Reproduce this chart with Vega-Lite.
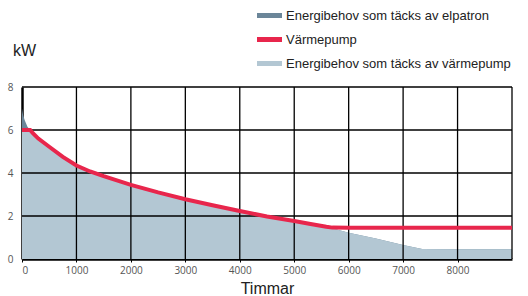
{
  "$schema": "https://vega.github.io/schema/vega-lite/v6.json",
  "width": 490,
  "height": 172,
  "autosize": {"type": "none"},
  "padding": {"left": 22, "top": 87, "right": 16, "bottom": 37},
  "background": "white",
  "config": {
    "view": {"stroke": null},
    "font": "Liberation Sans"
  },
  "datasets": {
    "curve": [
      {"h": 0, "demand": 7.0, "pump": 6.0, "covered": 6.0},
      {"h": 20, "demand": 6.7, "pump": 6.0, "covered": 6.0},
      {"h": 50, "demand": 6.45, "pump": 6.0, "covered": 6.0},
      {"h": 100, "demand": 6.15, "pump": 6.0, "covered": 6.0},
      {"h": 150, "demand": 6.0, "pump": 6.0, "covered": 6.0},
      {"h": 200, "demand": 5.85, "pump": 5.85, "covered": 5.85},
      {"h": 300, "demand": 5.6, "pump": 5.6, "covered": 5.6},
      {"h": 500, "demand": 5.22, "pump": 5.22, "covered": 5.22},
      {"h": 750, "demand": 4.75, "pump": 4.75, "covered": 4.75},
      {"h": 1000, "demand": 4.35, "pump": 4.35, "covered": 4.35},
      {"h": 1250, "demand": 4.07, "pump": 4.07, "covered": 4.07},
      {"h": 1500, "demand": 3.85, "pump": 3.85, "covered": 3.85},
      {"h": 2000, "demand": 3.45, "pump": 3.45, "covered": 3.45},
      {"h": 2500, "demand": 3.1, "pump": 3.1, "covered": 3.1},
      {"h": 3000, "demand": 2.78, "pump": 2.78, "covered": 2.78},
      {"h": 3500, "demand": 2.5, "pump": 2.5, "covered": 2.5},
      {"h": 4000, "demand": 2.23, "pump": 2.23, "covered": 2.23},
      {"h": 4500, "demand": 1.98, "pump": 1.98, "covered": 1.98},
      {"h": 5000, "demand": 1.77, "pump": 1.77, "covered": 1.77},
      {"h": 5300, "demand": 1.63, "pump": 1.63, "covered": 1.63},
      {"h": 5590, "demand": 1.5, "pump": 1.5, "covered": 1.5},
      {"h": 5700, "demand": 1.43, "pump": 1.46, "covered": 1.43},
      {"h": 6000, "demand": 1.22, "pump": 1.45, "covered": 1.22},
      {"h": 6500, "demand": 0.95, "pump": 1.45, "covered": 0.95},
      {"h": 7000, "demand": 0.65, "pump": 1.45, "covered": 0.65},
      {"h": 7350, "demand": 0.46, "pump": 1.45, "covered": 0.46},
      {"h": 8000, "demand": 0.45, "pump": 1.45, "covered": 0.45},
      {"h": 9000, "demand": 0.45, "pump": 1.45, "covered": 0.45}
    ],
    "gridx": [{"g": 1000}, {"g": 2000}, {"g": 3000}, {"g": 4000}, {"g": 5000}, {"g": 6000}, {"g": 7000}, {"g": 8000}, {"g": 9000}],
    "gridy": [{"g": 2}, {"g": 4}, {"g": 6}, {"g": 8}]
  },
  "layer": [
    {
      "data": {"name": "curve"},
      "mark": {"type": "area", "opacity": 1},
      "encoding": {
        "x": {
          "field": "h", "type": "quantitative",
          "scale": {"domain": [0, 9000], "nice": false},
          "axis": {
            "values": [0, 1000, 2000, 3000, 4000, 5000, 6000, 7000, 8000],
            "format": "d",
            "grid": false,
            "domainColor": "black", "domainWidth": 2.5,
            "ticks": true, "tickColor": "black", "tickSize": 3, "tickWidth": 1,
            "labelFont": "Open Sans", "labelFontSize": 10, "labelColor": "#555", "labelPadding": 3,
            "title": "Timmar", "titleFont": "Liberation Sans", "titleFontSize": 16, "titleFontWeight": "normal", "titleColor": "#222", "titlePadding": 5
          }
        },
        "y": {
          "field": "demand", "type": "quantitative",
          "scale": {"domain": [0, 8], "nice": false},
          "axis": {
            "values": [0, 2, 4, 6, 8],
            "grid": false,
            "domainColor": "black", "domainWidth": 2.5,
            "ticks": false,
            "labelFont": "Open Sans", "labelFontSize": 10, "labelColor": "#555", "labelPadding": 9,
            "title": "kW", "titleFont": "Liberation Sans", "titleFontSize": 16, "titleFontWeight": "normal", "titleColor": "#222",
            "titleAngle": 0, "titleX": 2, "titleY": -37, "titleAlign": "center", "titleBaseline": "middle"
          }
        },
        "color": {
          "datum": "Energibehov som täcks av elpatron",
          "type": "nominal",
          "scale": {
            "domain": ["Energibehov som täcks av elpatron", "Värmepump", "Energibehov som täcks av värmepump"],
            "range": ["#6b8699", "#e8264c", "#b3c7d3"]
          },
          "legend": {
            "title": null,
            "orient": "none",
            "legendX": 241,
            "legendY": -78,
            "padding": 0,
            "symbolType": "M-2,-0.4H2V0.4H-2Z",
            "symbolSize": 156,
            "symbolStrokeWidth": 0,
            "symbolOpacity": 1,
            "labelFont": "Liberation Sans",
            "labelFontSize": 13,
            "labelColor": "#222",
            "labelLimit": 400,
            "labelOffset": 10,
            "rowPadding": 10,
            "encode": {"symbols": {"update": {"fill": {"scale": "color", "field": "value"}, "stroke": {"value": "transparent"}}}}
          }
        }
      }
    },
    {
      "data": {"name": "curve"},
      "mark": {"type": "area", "opacity": 1},
      "encoding": {
        "x": {"field": "h", "type": "quantitative"},
        "y": {"field": "covered", "type": "quantitative"},
        "color": {"datum": "Energibehov som täcks av värmepump", "type": "nominal"}
      }
    },
    {
      "data": {"name": "gridx"},
      "mark": {"type": "rule", "color": "black", "strokeWidth": 1.3},
      "encoding": {
        "x": {"field": "g", "type": "quantitative"}
      }
    },
    {
      "data": {"name": "gridy"},
      "mark": {"type": "rule", "color": "black", "strokeWidth": 1.3},
      "encoding": {
        "y": {"field": "g", "type": "quantitative"}
      }
    },
    {
      "data": {"name": "curve"},
      "mark": {"type": "line", "strokeWidth": 4},
      "encoding": {
        "x": {"field": "h", "type": "quantitative"},
        "y": {"field": "pump", "type": "quantitative"},
        "color": {"datum": "Värmepump", "type": "nominal"}
      }
    },
    {
      "mark": {"type": "point", "shape": "triangle-up", "filled": true, "color": "black", "size": 40, "opacity": 1, "clip": false},
      "encoding": {
        "x": {"datum": 0, "type": "quantitative"},
        "y": {"datum": 8.3, "type": "quantitative"}
      }
    },
    {
      "mark": {"type": "point", "shape": "triangle-right", "filled": true, "color": "black", "size": 40, "opacity": 1, "clip": false},
      "encoding": {
        "x": {"datum": 9170, "type": "quantitative"},
        "y": {"datum": 0, "type": "quantitative"}
      }
    }
  ]
}
